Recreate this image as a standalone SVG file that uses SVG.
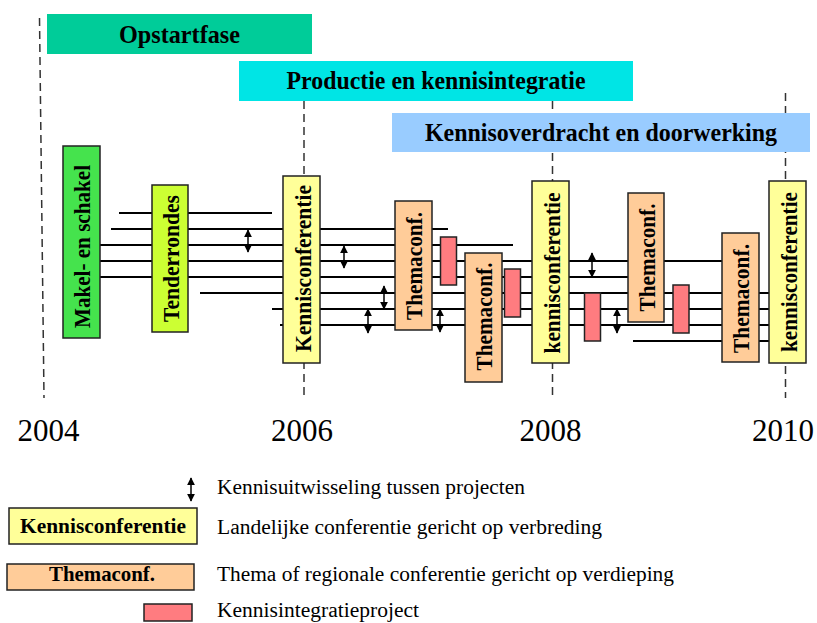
<svg xmlns="http://www.w3.org/2000/svg" width="817" height="623" viewBox="0 0 817 623">
<style>
.dash{stroke:#333;stroke-width:1.5;stroke-dasharray:8 5;fill:none}
.phase{font-family:"Liberation Serif","Times New Roman",serif;font-weight:bold;font-size:26px;fill:#000;text-anchor:middle}
.box{stroke:#222;stroke-width:1.5}
.vt{font-family:"Liberation Serif","Times New Roman",serif;font-weight:bold;font-size:23px;fill:#000;text-anchor:middle}
.yr{font-family:"Liberation Serif","Times New Roman",serif;font-size:31px;fill:#000}
.lg{font-family:"Liberation Serif","Times New Roman",serif;font-size:20px;fill:#000}
.lgb{font-family:"Liberation Serif","Times New Roman",serif;font-weight:bold;font-size:21px;fill:#000;text-anchor:middle}
.hl{stroke:#000;stroke-width:2;fill:none}
.arr{stroke:#000;stroke-width:1.5;fill:none;marker-start:url(#ah);marker-end:url(#ah)}
.kc{fill:#ffff99}
.tc{fill:#ffcc99}
.kp{fill:#ff7c80}
</style>
<defs>
<marker id="ah" viewBox="0 0 10 10" refX="9" refY="5" markerWidth="8" markerHeight="8" markerUnits="userSpaceOnUse" orient="auto-start-reverse">
<path d="M0,0 L10,5 L0,10 Z" fill="#000"/>
</marker>
</defs>
<rect width="817" height="623" fill="#fff"/>

<g id="gridlines">
<line class="dash" x1="39.5" y1="18" x2="44" y2="398"/>
<line class="dash" x1="304" y1="101" x2="304" y2="398"/>
<line class="dash" x1="552.5" y1="101" x2="552.5" y2="398"/>
<line class="dash" x1="785.5" y1="93" x2="785.5" y2="398"/>
</g>

<g id="phase-opstart">
<rect x="47" y="14" width="265" height="40" fill="#00cc99"/>
<text class="phase" x="179.5" y="43" textLength="121" lengthAdjust="spacingAndGlyphs">Opstartfase</text>
</g>
<g id="phase-productie">
<rect x="239" y="61" width="394" height="40" fill="#00e5e5"/>
<text class="phase" x="436" y="88.5" textLength="299" lengthAdjust="spacingAndGlyphs">Productie en kennisintegratie</text>
</g>
<g id="phase-overdracht">
<rect x="392" y="113" width="418" height="39" fill="#99ccff"/>
<text class="phase" x="601" y="141" textLength="352" lengthAdjust="spacingAndGlyphs">Kennisoverdracht  en  doorwerking</text>
</g>

<g id="connectors">
<line class="hl" x1="119" y1="213" x2="272" y2="213"/>
<line class="hl" x1="111" y1="229" x2="448" y2="229"/>
<line class="hl" x1="81" y1="245" x2="513" y2="245"/>
<line class="hl" x1="81" y1="261" x2="722" y2="261"/>
<line class="hl" x1="81" y1="277" x2="628" y2="277"/>
<line class="hl" x1="200" y1="293" x2="787" y2="293"/>
<line class="hl" x1="272" y1="309" x2="787" y2="309"/>
<line class="hl" x1="280" y1="325" x2="787" y2="325"/>
<line class="hl" x1="633" y1="341" x2="787" y2="341"/>
<line class="arr" x1="248" y1="230" x2="248" y2="252"/>
<line class="arr" x1="344" y1="246" x2="344" y2="268"/>
<line class="arr" x1="384" y1="286" x2="384" y2="309"/>
<line class="arr" x1="368" y1="309" x2="368" y2="333"/>
<line class="arr" x1="440" y1="309" x2="440" y2="332"/>
<line class="arr" x1="592" y1="253" x2="592" y2="277"/>
<line class="arr" x1="617" y1="309" x2="617" y2="333"/>
</g>

<g id="makel">
<rect class="box" x="63" y="146" width="37" height="192" fill="#45e34d"/>
<text class="vt" transform="translate(90,246.5) rotate(-90)" textLength="163" lengthAdjust="spacingAndGlyphs">Makel- en schakel</text>
</g>
<g id="tenderrondes">
<rect class="box" x="152" y="185" width="36" height="147" fill="#ccff33"/>
<text class="vt" transform="translate(178.5,258.5) rotate(-90)" textLength="127" lengthAdjust="spacingAndGlyphs">Tenderrondes</text>
</g>
<g id="kennisconf-2006">
<rect class="box kc" x="283" y="176" width="37" height="187"/>
<text class="vt" transform="translate(311,268.5) rotate(-90)" textLength="167" lengthAdjust="spacingAndGlyphs">Kennisconferentie</text>
</g>
<g id="thema-1">
<rect class="box tc" x="395" y="201" width="37" height="129"/>
<text class="vt" transform="translate(422,266) rotate(-90)" textLength="108" lengthAdjust="spacingAndGlyphs">Themaconf.</text>
</g>
<g id="kip-1">
<rect class="box kp" x="440.5" y="237" width="16" height="48"/>
</g>
<g id="thema-2">
<rect class="box tc" x="465" y="253" width="37" height="129"/>
<text class="vt" transform="translate(492,316.5) rotate(-90)" textLength="108" lengthAdjust="spacingAndGlyphs">Themaconf.</text>
</g>
<g id="kip-2">
<rect class="box kp" x="504.5" y="269" width="16" height="48"/>
</g>
<g id="kennisconf-2008">
<rect class="box kc" x="532" y="181" width="37" height="182"/>
<text class="vt" transform="translate(559.5,273) rotate(-90)" textLength="161" lengthAdjust="spacingAndGlyphs">kennisconferentie</text>
</g>
<g id="kip-3">
<rect class="box kp" x="584.5" y="293" width="16" height="48"/>
</g>
<g id="thema-3">
<rect class="box tc" x="628" y="193" width="36" height="129"/>
<text class="vt" transform="translate(654.5,257.5) rotate(-90)" textLength="108" lengthAdjust="spacingAndGlyphs">Themaconf.</text>
</g>
<g id="kip-4">
<rect class="box kp" x="673" y="285" width="16" height="48"/>
</g>
<g id="thema-4">
<rect class="box tc" x="722" y="233" width="37" height="129"/>
<text class="vt" transform="translate(749,298.5) rotate(-90)" textLength="109" lengthAdjust="spacingAndGlyphs">Themaconf.</text>
</g>
<g id="kennisconf-2010">
<rect class="box kc" x="769" y="181" width="37" height="182"/>
<text class="vt" transform="translate(796.5,272) rotate(-90)" textLength="160" lengthAdjust="spacingAndGlyphs">kennisconferentie</text>
</g>

<g id="years">
<text class="yr" x="17.5" y="441">2004</text>
<text class="yr" x="271" y="441">2006</text>
<text class="yr" x="519.5" y="441">2008</text>
<text class="yr" x="752" y="441">2010</text>
</g>

<g id="legend-arrow">
<line class="arr" x1="191" y1="478" x2="191" y2="501"/>
<text class="lg" x="217" y="494" textLength="308" lengthAdjust="spacingAndGlyphs">Kennisuitwisseling tussen projecten</text>
</g>
<g id="legend-kennisconf">
<rect class="box kc" x="9" y="508" width="188" height="36"/>
<text class="lgb" x="103" y="533" textLength="166" lengthAdjust="spacingAndGlyphs">Kennisconferentie</text>
<text class="lg" x="217" y="533.5" textLength="385" lengthAdjust="spacingAndGlyphs">Landelijke conferentie gericht op verbreding</text>
</g>
<g id="legend-thema">
<rect class="box tc" x="7" y="564" width="187" height="26"/>
<text class="lgb" x="102" y="580.5" textLength="106" lengthAdjust="spacingAndGlyphs">Themaconf.</text>
<text class="lg" x="217" y="580.5" textLength="457" lengthAdjust="spacingAndGlyphs">Thema of regionale conferentie gericht op verdieping</text>
</g>
<g id="legend-kip">
<rect class="box kp" x="144" y="604" width="48" height="17"/>
<text class="lg" x="217" y="616.5" textLength="202" lengthAdjust="spacingAndGlyphs">Kennisintegratieproject</text>
</g>
</svg>
